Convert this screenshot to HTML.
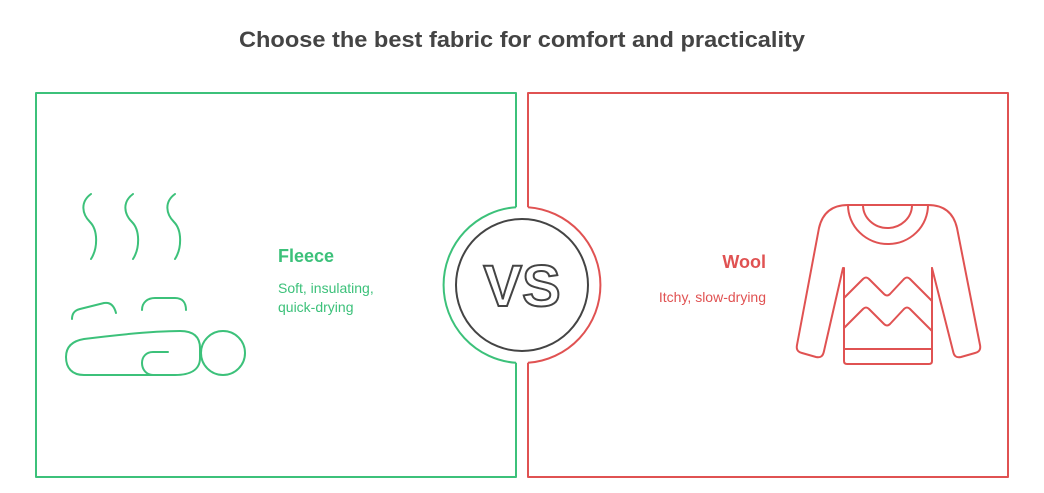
<!DOCTYPE html>
<html><head><meta charset="utf-8"><style>body{margin:0;background:#fff}svg{display:block}</style></head><body>
<svg width="1044" height="493" viewBox="0 0 1044 493" xmlns="http://www.w3.org/2000/svg" font-family="Liberation Sans, sans-serif">
<text x="522" y="47" text-anchor="middle" font-size="22" font-weight="bold" fill="#444" textLength="566" lengthAdjust="spacingAndGlyphs">Choose the best fabric for comfort and practicality</text>
<g fill="none" stroke-width="2" stroke-linecap="round" stroke-linejoin="round">
<path d="M516,207.2 L516,93 L36,93 L36,477 L516,477 L516,362.8" stroke="#3cc17a" stroke-linecap="butt"/>
<path d="M516,207.2 A78,78 0 0 0 516,362.8" stroke="#3cc17a" stroke-linecap="butt"/>
<path d="M528,207.2 L528,93 L1008,93 L1008,477 L528,477 L528,362.8" stroke="#e05252" stroke-linecap="butt"/>
<path d="M528,207.2 A78,78 0 0 1 528,362.8" stroke="#e05252" stroke-linecap="butt"/>
<circle cx="522" cy="285" r="66" stroke="#444"/>
<g stroke="#3cc17a">
<path d="M91,194 C80,202 82,214 90,222 C98,230 98,248 91,259"/>
<path d="M133,194 C122,202 124,214 132,222 C140,230 140,248 133,259"/>
<path d="M175,194 C164,202 166,214 174,222 C182,230 182,248 175,259"/>
<path d="M72,319 C72,312 76,310 80,309 L104,303 C110,302 114,305 116,313"/>
<path d="M142,310 C142,302 148,298 155,298 L175,298 C182,298 186,302 186,310"/>
<path d="M84,339 C100,337 150,331 180,331 C195,331 200,338 200,348 L200,358 C200,370 190,375 175,375 L84,375 C72,375 66,368 66,357 C66,347 72,341 84,339 Z"/>
<path d="M168,352 L153,352 C146,352 142,357 142,363 C142,369 146,375 153,375"/>
<circle cx="223" cy="353" r="22"/>
</g>
<g stroke="#e05252">
<path d="M848,205 L928,205"/>
<path d="M863,205 A24.5,23 0 0 0 912,205"/>
<path d="M848,205 A40,39 0 0 0 928,205"/>
<path d="M848,205 C830,205 822,215 819,228 L797,345 C796,350 798,352 802,353 L816,357 C821,358 823,356 824,351 L843,268"/>
<path d="M928,205 C946,205 954,215 957,228 L980,345 C981,350 979,352 975,353 L961,357 C956,358 954,356 953,351 L932,268"/>
<path d="M844,268 L844,361 C844,363 845,364 847,364 L929,364 C931,364 932,363 932,361 L932,268"/>
<path d="M844,349 L932,349"/>
<path d="M844,298 L863,279 C865,277 867,277 869,279 L884,294 C886,296 888,296 890,294 L904,279 C906,277 908,277 910,279 L932,301"/>
<path d="M844,328 L863,309 C865,307 867,307 869,309 L884,324 C886,326 888,326 890,324 L904,309 C906,307 908,307 910,309 L932,331"/>
</g>
</g>
<text x="522" y="306" text-anchor="middle" font-size="58" font-weight="bold" fill="none" stroke="#444" stroke-width="2">VS</text>
<text x="278" y="262" font-size="18" font-weight="bold" fill="#3cc17a">Fleece</text>
<text x="278" y="293" font-size="14" fill="#3cc17a">Soft, insulating,</text>
<text x="278" y="312" font-size="14" fill="#3cc17a">quick-drying</text>
<text x="766" y="268" text-anchor="end" font-size="18" font-weight="bold" fill="#e05252">Wool</text>
<text x="766" y="302" text-anchor="end" font-size="14" fill="#e05252">Itchy, slow-drying</text>
</svg>
</body></html>
